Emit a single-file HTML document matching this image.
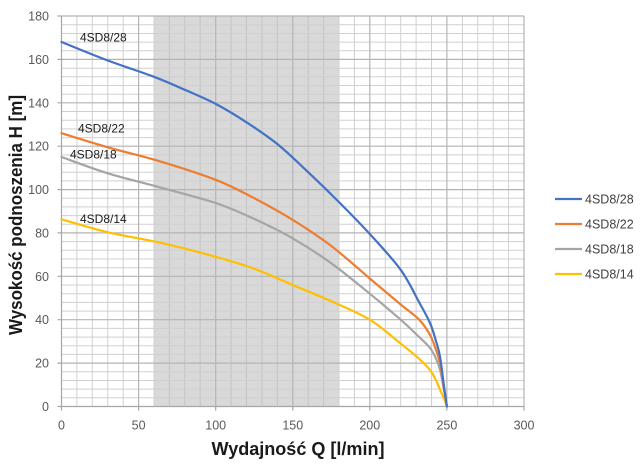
<!DOCTYPE html>
<html><head><meta charset="utf-8">
<style>
html,body{margin:0;padding:0;background:#fff;}
svg{display:block;}
text{font-family:"Liberation Sans",sans-serif;}
</style></head>
<body>
<svg id="chart" width="640" height="466" viewBox="0 0 640 466" xmlns="http://www.w3.org/2000/svg">
<rect x="0" y="0" width="640" height="466" fill="#fff"/>
<rect x="154" y="16" width="185" height="390.5" fill="#d9d9d9"/>
<g id="grid">
<g stroke="#d0d0d0" stroke-width="1">
<line x1="76.9" y1="16" x2="76.9" y2="406.5"/>
<line x1="92.3" y1="16" x2="92.3" y2="406.5"/>
<line x1="107.8" y1="16" x2="107.8" y2="406.5"/>
<line x1="123.2" y1="16" x2="123.2" y2="406.5"/>
<line x1="154.0" y1="16" x2="154.0" y2="406.5"/>
<line x1="169.4" y1="16" x2="169.4" y2="406.5" stroke="#c4c4c4"/>
<line x1="184.8" y1="16" x2="184.8" y2="406.5" stroke="#c4c4c4"/>
<line x1="200.2" y1="16" x2="200.2" y2="406.5" stroke="#c4c4c4"/>
<line x1="231.1" y1="16" x2="231.1" y2="406.5" stroke="#c4c4c4"/>
<line x1="246.5" y1="16" x2="246.5" y2="406.5" stroke="#c4c4c4"/>
<line x1="261.9" y1="16" x2="261.9" y2="406.5" stroke="#c4c4c4"/>
<line x1="277.3" y1="16" x2="277.3" y2="406.5" stroke="#c4c4c4"/>
<line x1="308.2" y1="16" x2="308.2" y2="406.5" stroke="#c4c4c4"/>
<line x1="323.6" y1="16" x2="323.6" y2="406.5" stroke="#c4c4c4"/>
<line x1="339.0" y1="16" x2="339.0" y2="406.5"/>
<line x1="354.4" y1="16" x2="354.4" y2="406.5"/>
<line x1="385.3" y1="16" x2="385.3" y2="406.5"/>
<line x1="400.7" y1="16" x2="400.7" y2="406.5"/>
<line x1="416.1" y1="16" x2="416.1" y2="406.5"/>
<line x1="431.5" y1="16" x2="431.5" y2="406.5"/>
<line x1="462.4" y1="16" x2="462.4" y2="406.5"/>
<line x1="477.8" y1="16" x2="477.8" y2="406.5"/>
<line x1="493.2" y1="16" x2="493.2" y2="406.5"/>
<line x1="508.6" y1="16" x2="508.6" y2="406.5"/>
</g>
<path stroke="#d0d0d0" stroke-width="1" fill="none" d="
M61.5 397.8H524 M61.5 389.1H524 M61.5 380.5H524 M61.5 371.8H524
M61.5 354.4H524 M61.5 345.8H524 M61.5 337.1H524 M61.5 328.4H524
M61.5 311.1H524 M61.5 302.4H524 M61.5 293.7H524 M61.5 285.0H524
M61.5 267.7H524 M61.5 259.0H524 M61.5 250.3H524 M61.5 241.6H524
M61.5 224.3H524 M61.5 215.6H524 M61.5 206.9H524 M61.5 198.3H524
M61.5 180.9H524 M61.5 172.2H524 M61.5 163.6H524 M61.5 154.9H524
M61.5 137.6H524 M61.5 128.9H524 M61.5 120.2H524 M61.5 111.5H524
M61.5 94.2H524 M61.5 85.5H524 M61.5 76.8H524 M61.5 68.2H524
M61.5 50.8H524 M61.5 42.1H524 M61.5 33.5H524 M61.5 24.8H524"/>
<path stroke="#b4b4b4" stroke-width="1.2" fill="none" d="
M61.5 363.1H524 M61.5 319.7H524 M61.5 276.3H524 M61.5 232.9H524
M61.5 189.6H524 M61.5 146.2H524 M61.5 102.8H524 M61.5 59.4H524 M61.5 16H524
M138.6 16V406.5 M215.7 16V406.5 M292.8 16V406.5 M369.8 16V406.5 M446.9 16V406.5 M524 16V406.5"/>
<path stroke="#a6a6a6" stroke-width="1.2" fill="none" d="M61.5 16V406.5H524
M57.5 406.5H61.5 M57.5 363.1H61.5 M57.5 319.7H61.5 M57.5 276.3H61.5 M57.5 232.9H61.5 M57.5 189.6H61.5 M57.5 146.2H61.5 M57.5 102.8H61.5 M57.5 59.4H61.5 M57.5 16H61.5
M61.5 406.5V410.5 M138.6 406.5V410.5 M215.7 406.5V410.5 M292.8 406.5V410.5 M369.8 406.5V410.5 M446.9 406.5V410.5 M524 406.5V410.5"/>
</g>
<g id="series" fill="none" stroke-width="2.2" stroke-linejoin="round" stroke-linecap="round">
<polyline stroke="#ffc000" points="61.5,219.3 107.8,232.3 160.2,242.7 215.7,256.8 254.2,268.7 292.8,285.0 331.3,301.3 369.8,319.7 400.7,343.6 419.2,358.8 430.0,370.1 436.1,380.5 440.7,391.3 444.6,400.0 446.9,406.5"/>
<polyline stroke="#a5a5a5" points="61.5,157.0 107.8,173.3 160.2,187.4 215.7,203.0 254.2,218.9 292.8,238.4 331.3,263.3 369.8,293.7 400.7,319.7 419.2,337.1 430.0,347.9 436.1,358.8 440.0,369.6 443.8,389.1 446.9,406.5"/>
<polyline stroke="#ed7d31" points="61.5,133.2 107.8,147.3 160.2,161.4 215.7,179.8 254.2,198.2 292.8,219.9 331.3,246.0 369.8,278.5 400.7,304.5 419.2,319.7 430.0,334.9 436.1,350.1 440.0,363.1 443.8,387.0 446.9,406.5"/>
<polyline stroke="#4472c4" points="61.5,42.0 107.8,60.5 154.0,76.8 184.8,89.8 215.7,103.9 246.5,122.3 277.3,144.0 308.2,172.2 339.0,202.1 369.8,234.0 400.7,269.8 419.2,302.4 430.0,323.0 436.1,341.4 440.0,356.6 443.8,384.8 446.9,406.5"/>
</g>
<g font-size="12" fill="#1a1a1a">
<text x="80" y="41.5">4SD8/28</text>
<text x="78" y="132.5">4SD8/22</text>
<text x="70" y="158.5">4SD8/18</text>
<text x="80" y="223">4SD8/14</text>
</g>
<g font-size="12.5" fill="#595959" text-anchor="end">
<text x="49" y="20.5">180</text>
<text x="49" y="63.9">160</text>
<text x="49" y="107.3">140</text>
<text x="49" y="150.7">120</text>
<text x="49" y="194.1">100</text>
<text x="49" y="237.4">80</text>
<text x="49" y="280.8">60</text>
<text x="49" y="324.2">40</text>
<text x="49" y="367.6">20</text>
<text x="49" y="411">0</text>
</g>
<g font-size="12.5" fill="#595959" text-anchor="middle">
<text x="61.5" y="429.5">0</text>
<text x="138.6" y="429.5">50</text>
<text x="215.7" y="429.5">100</text>
<text x="292.8" y="429.5">150</text>
<text x="369.8" y="429.5">200</text>
<text x="446.9" y="429.5">250</text>
<text x="524" y="429.5">300</text>
</g>
<text x="298" y="455" font-size="18" font-weight="bold" fill="#1a1a1a" text-anchor="middle" textLength="173" lengthAdjust="spacingAndGlyphs">Wydajność Q [l/min]</text>
<text transform="translate(22,215) rotate(-90)" x="0" y="0" font-size="18" font-weight="bold" fill="#1a1a1a" text-anchor="middle" textLength="240" lengthAdjust="spacingAndGlyphs">Wysokość podnoszenia H [m]</text>
<g stroke-width="2.2">
<line x1="555" y1="199" x2="582" y2="199" stroke="#4472c4"/>
<line x1="555" y1="224" x2="582" y2="224" stroke="#ed7d31"/>
<line x1="555" y1="249" x2="582" y2="249" stroke="#a5a5a5"/>
<line x1="555" y1="274" x2="582" y2="274" stroke="#ffc000"/>
</g>
<g font-size="12.5" fill="#404040">
<text x="585" y="203.5">4SD8/28</text>
<text x="585" y="228.5">4SD8/22</text>
<text x="585" y="253.5">4SD8/18</text>
<text x="585" y="278.5">4SD8/14</text>
</g>
</svg>
<script>
(function(){
  var NS="http://www.w3.org/2000/svg";
  var polys=document.querySelectorAll("#series polyline");
  for(var i=0;i<polys.length;i++){
    var pl=polys[i];
    var pts=pl.getAttribute("points").trim().split(/\s+/).map(function(s){var a=s.split(",");return [parseFloat(a[0]),parseFloat(a[1])];});
    var d="M"+pts[0][0]+" "+pts[0][1];
    for(var k=0;k<pts.length-1;k++){
      var p0=pts[k>0?k-1:k],p1=pts[k],p2=pts[k+1],p3=pts[k+2<pts.length?k+2:k+1];
      var c1x=p1[0]+(p2[0]-p0[0])/6,c1y=p1[1]+(p2[1]-p0[1])/6;
      var c2x=p2[0]-(p3[0]-p1[0])/6,c2y=p2[1]-(p3[1]-p1[1])/6;
      d+=" C"+c1x.toFixed(2)+" "+c1y.toFixed(2)+" "+c2x.toFixed(2)+" "+c2y.toFixed(2)+" "+p2[0]+" "+p2[1];
    }
    var path=document.createElementNS(NS,"path");
    path.setAttribute("d",d);
    path.setAttribute("stroke",pl.getAttribute("stroke"));
    pl.parentNode.replaceChild(path,pl);
  }
})();
</script>
</body></html>
